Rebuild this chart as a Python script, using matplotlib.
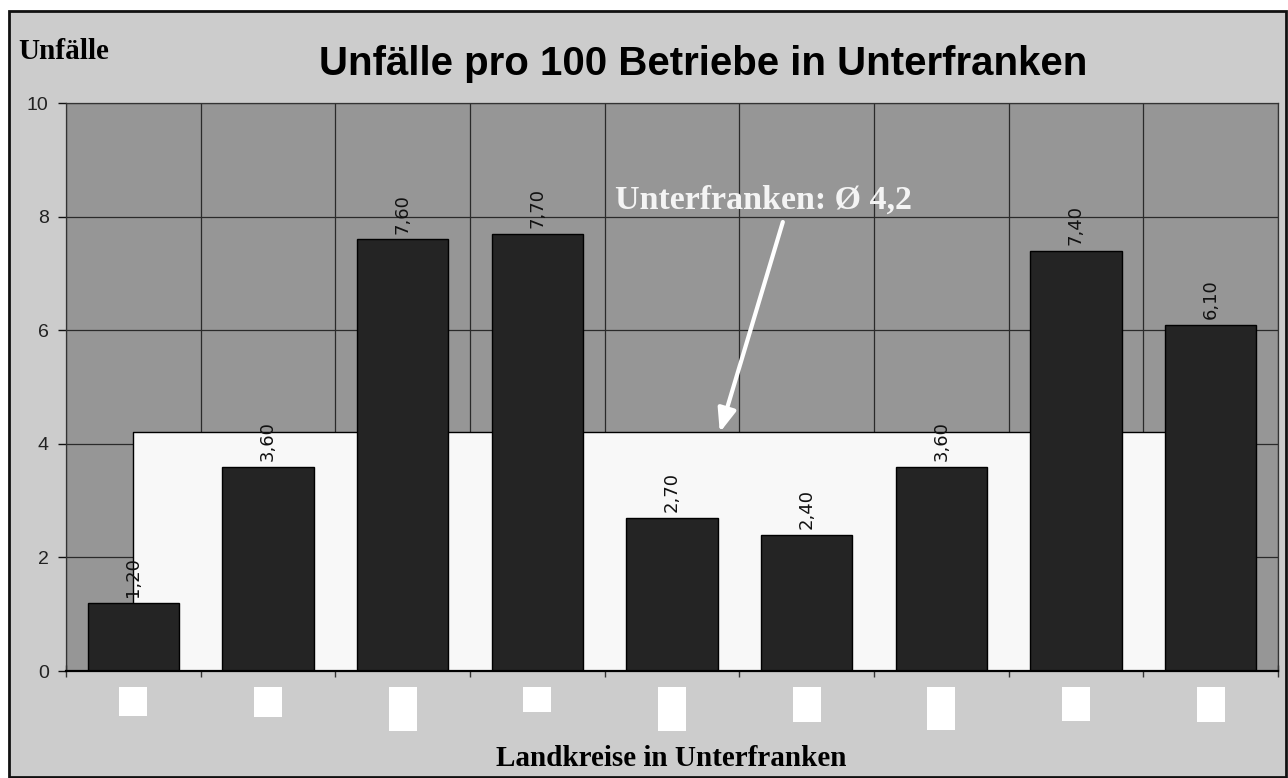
import numpy as np
import matplotlib.pyplot as plt
from matplotlib.patches import Rectangle
from matplotlib.transforms import blended_transform_factory

# data
values = [1.2, 3.6, 7.6, 7.7, 2.7, 2.4, 3.6, 7.4, 6.1]
bar_labels = ["1,20", "3,60", "7,60", "7,70", "2,70", "2,40", "3,60", "7,40", "6,10"]
average = 4.2
avg_text = "Unterfranken: Ø 4,2"
title = "Unfälle pro 100 Betriebe in Unterfranken"
ylabel = "Unfälle"
xlabel = "Landkreise in Unterfranken"
yticks = [0, 2, 4, 6, 8, 10]
# hidden (blanked) district names: height of the white boxes in pixels
label_box_px = [29, 30, 44, 25, 44, 35, 43, 34, 35]

W, H = 1288, 778
fig = plt.figure(figsize=(W / 100, H / 100), dpi=100)
fig.patch.set_facecolor("white")

# outer frame of the chart
fig.patches.append(Rectangle((9 / W, 1 / H), (1286 - 9) / W, (778 - 11 - 1) / H,
                             transform=fig.transFigure, facecolor="#cccccc",
                             edgecolor="#111111", linewidth=2, zorder=-1))

ax = fig.add_axes([66 / W, 107 / H, 1212 / W, 568 / H])
ax.set_facecolor("#969696")

x = np.arange(len(values))

# average area (from first to last category)
ax.fill_between([x[0], x[-1]], [average, average], 0, facecolor="#f8f8f8",
                edgecolor="none", zorder=1)
ax.plot([x[0], x[0], x[-1]], [0, average, average], color="black", lw=1, zorder=1.1)

bars = ax.bar(x, values, width=0.676, color="#242424", edgecolor="black",
              linewidth=1, zorder=2)

for xi, v, lab in zip(x, values, bar_labels):
    ax.annotate(lab, (xi, v), xytext=(0, 4), textcoords="offset points",
                rotation=90, ha="center", va="bottom", fontsize=13,
                family="DejaVu Sans", color="#111111", zorder=3)

ax.set_xlim(-0.5, len(values) - 0.5)
ax.set_ylim(0, 10)
ax.set_yticks(yticks)
ax.set_yticklabels([str(t) for t in yticks], family="Liberation Sans", fontsize=14,
                   color="#222222")
ax.set_xticks(np.arange(len(values) + 1) - 0.5)
ax.set_xticklabels([])
ax.tick_params(axis="y", direction="out", length=6, width=1, pad=6.5, color="#111111")
ax.tick_params(axis="x", direction="inout", length=9, width=1, color="#333333")

ax.grid(True, color="#2a2a2a", linewidth=0.9, zorder=0.5)
ax.set_axisbelow(True)
for s in ["left", "top", "right"]:
    ax.spines[s].set_color("#333333")
    ax.spines[s].set_linewidth(0.9)
ax.spines["bottom"].set_color("black")
ax.spines["bottom"].set_linewidth(1.6)
ax.spines["bottom"].set_zorder(4)

# arrow and average text
ax.annotate("", xy=(4.355, average), xytext=(4.823, 7.905),
            arrowprops=dict(arrowstyle="-|>,head_length=1.4,head_width=0.55",
                            color="white", lw=3, shrinkA=0, shrinkB=0), zorder=3)
ax.text(3.576, 8.13, avg_text, color="#f4f4f4", fontsize=24.5, fontweight="bold",
        family="Liberation Serif", ha="left", va="baseline", zorder=3)

# white boxes in place of the district names
trans = blended_transform_factory(ax.transData, fig.transFigure)
box_w = 28 / 134.7
for xi, hpx in zip(x, label_box_px):
    ax.add_patch(Rectangle((xi - box_w / 2, (H - 687 - hpx) / H), box_w, hpx / H,
                           transform=trans, facecolor="white", edgecolor="none",
                           clip_on=False, zorder=3))

fig.text(703 / W, (H - 75) / H, title, ha="center", va="baseline", fontsize=29,
         fontweight="bold", family="Liberation Sans")
fig.text(18 / W, (H - 59) / H, ylabel, ha="left", va="baseline", fontsize=21,
         fontweight="bold", family="Liberation Serif")
fig.text(671 / W, (H - 766) / H, xlabel, ha="center", va="baseline", fontsize=21,
         fontweight="bold", family="Liberation Serif")

plt.savefig("out.png", dpi=100)
